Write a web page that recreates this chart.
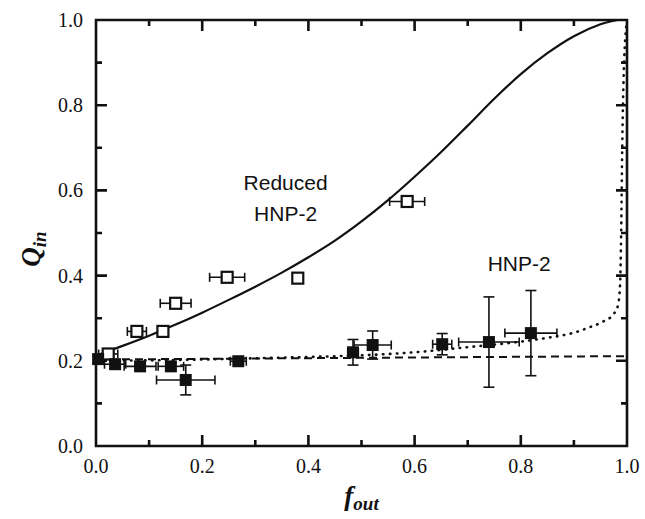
<!DOCTYPE html>
<html>
<head>
<meta charset="utf-8">
<script src="https://cdn.jsdelivr.net/npm/d3@7"></script>
<style>
	body { margin: 0; background: #fff; }
	svg { display: block; }
	.tick-label { font-family: 'Liberation Serif', 'Times New Roman', serif; font-size: 20px; fill: #111; }
	.note { font-family: 'Liberation Sans', Arial, sans-serif; font-size: 21px; fill: #111; }
	.title { font-family: 'Liberation Serif', 'Times New Roman', serif; font-weight: bold; font-style: italic; fill: #111; }
</style>
</head>
<body>
<div id="chart"></div>
<script>
// Reduced HNP-2 (open squares)
const openF = [0.023, 0.077, 0.126, 0.150, 0.247, 0.380, 0.586];
const openQ = [0.216, 0.269, 0.269, 0.335, 0.396, 0.394, 0.574];
const openFErr = [0.018, 0.018, 0.008, 0.029, 0.033, 0.005, 0.033];

// HNP-2 (filled squares)
const filledF = [0.004, 0.036, 0.083, 0.141, 0.169, 0.268, 0.484, 0.521, 0.652, 0.740, 0.819];
const filledQ = [0.204, 0.192, 0.187, 0.187, 0.155, 0.199, 0.220, 0.237, 0.239, 0.244, 0.265];
const filledFErr = [0.004, 0.02, 0.03, 0.024, 0.055, 0.015, 0.01, 0.035, 0.018, 0.057, 0.049];
const filledQErr = [0.01, 0.01, 0.008, 0.01, 0.035, 0.006, 0.03, 0.033, 0.025, 0.106, 0.1];

// fitted curves
const solidF = [0, 0.05, 0.1, 0.15, 0.2, 0.25, 0.3, 0.35, 0.4, 0.45, 0.5, 0.55, 0.6, 0.65, 0.7, 0.75, 0.8, 0.85, 0.9, 0.95, 1.0];
const solidQ = [0.212, 0.235, 0.259, 0.285, 0.313, 0.343, 0.374, 0.407, 0.443, 0.482, 0.527, 0.577, 0.632, 0.690, 0.752, 0.815, 0.873, 0.922, 0.962, 0.990, 1.005];

const dashF = [0, 1.0];
const dashQ = [0.203, 0.211];

const dotF = [0, 0.1, 0.2, 0.3, 0.4, 0.5, 0.6, 0.7, 0.8, 0.85, 0.9, 0.93, 0.955, 0.975, 0.983, 0.987, 0.989, 0.991, 0.994, 1.0];
const dotQ = [0.2, 0.201, 0.203, 0.206, 0.209, 0.213, 0.22, 0.232, 0.245, 0.254, 0.266, 0.279, 0.292, 0.31, 0.33, 0.38, 0.5, 0.7, 0.88, 1.0];

const majorTicks = [0.2, 0.4, 0.6, 0.8];
const minorTicks = [0.1, 0.3, 0.5, 0.7, 0.9];
const labelTicks = [0, 0.2, 0.4, 0.6, 0.8, 1.0];

const width = 645;
const height = 519;
const margin = {top: 20, right: 18, bottom: 73, left: 96};

const svg = d3
	.select('#chart')
	.append('svg')
	.attr('width', width)
	.attr('height', height);

const x = d3
	.scaleLinear()
	.domain([0, 1])
	.range([margin.left, width - margin.right]);

const y = d3
	.scaleLinear()
	.domain([0, 1])
	.range([height - margin.bottom, margin.top]);

svg.append('clipPath')
	.attr('id', 'plot-clip')
	.append('rect')
	.attr('x', x(0))
	.attr('y', y(1) - 1)
	.attr('width', x(1) - x(0))
	.attr('height', y(0) - y(1) + 1);

const plot = svg.append('g').attr('clip-path', 'url(#plot-clip)');

// Curves
const line = d3
	.line()
	.x(d => x(d[0]))
	.y(d => y(d[1]));

plot.append('path')
	.datum(d3.zip(solidF, solidQ))
	.attr('d', line.curve(d3.curveMonotoneX))
	.attr('fill', 'none')
	.attr('stroke', '#111')
	.attr('stroke-width', 2.2);

plot.append('path')
	.datum(d3.zip(dashF, dashQ))
	.attr('d', line.curve(d3.curveLinear))
	.attr('fill', 'none')
	.attr('stroke', '#111')
	.attr('stroke-width', 2)
	.attr('stroke-dasharray', '8,5');

plot.append('path')
	.datum(d3.zip(dotF, dotQ))
	.attr('d', line.curve(d3.curveMonotoneX))
	.attr('fill', 'none')
	.attr('stroke', '#111')
	.attr('stroke-width', 2.6)
	.attr('stroke-linecap', 'round')
	.attr('stroke-dasharray', '0.5,6.5');

// Error bars
const errLayer = svg.append('g').attr('stroke', '#111').attr('stroke-width', 1.6);
const cap = 4.5;

function drawErrors(f, q, fErr, qErr) {
	f.forEach((fv, i) => {
		const cx = x(fv);
		const cy = y(q[i]);
		const dx = fErr ? fErr[i] : 0;
		const dy = qErr ? qErr[i] : 0;
		if (dx > 0) {
			const x0 = x(Math.max(0, fv - dx));
			const x1 = x(fv + dx);
			errLayer.append('line').attr('x1', x0).attr('x2', x1).attr('y1', cy).attr('y2', cy);
			errLayer.append('line').attr('x1', x0).attr('x2', x0).attr('y1', cy - cap).attr('y2', cy + cap);
			errLayer.append('line').attr('x1', x1).attr('x2', x1).attr('y1', cy - cap).attr('y2', cy + cap);
		}
		if (dy > 0) {
			const y0 = y(q[i] - dy);
			const y1 = y(q[i] + dy);
			errLayer.append('line').attr('x1', cx).attr('x2', cx).attr('y1', y0).attr('y2', y1);
			errLayer.append('line').attr('x1', cx - cap - 1).attr('x2', cx + cap + 1).attr('y1', y0).attr('y2', y0);
			errLayer.append('line').attr('x1', cx - cap - 1).attr('x2', cx + cap + 1).attr('y1', y1).attr('y2', y1);
		}
	});
}

drawErrors(openF, openQ, openFErr, null);
drawErrors(filledF, filledQ, filledFErr, filledQErr);

// Markers
const sq = 11;

svg.append('g')
	.selectAll('rect')
	.data(d3.zip(openF, openQ))
	.enter()
	.append('rect')
	.attr('x', d => x(d[0]) - sq / 2)
	.attr('y', d => y(d[1]) - sq / 2)
	.attr('width', sq)
	.attr('height', sq)
	.attr('fill', '#fff')
	.attr('stroke', '#111')
	.attr('stroke-width', 2.2);

svg.append('g')
	.selectAll('rect')
	.data(d3.zip(filledF, filledQ))
	.enter()
	.append('rect')
	.attr('x', d => x(d[0]) - (sq + 1) / 2)
	.attr('y', d => y(d[1]) - (sq + 1) / 2)
	.attr('width', sq + 1)
	.attr('height', sq + 1)
	.attr('fill', '#111');

// Frame and inward ticks on all four sides, in one path
function framePath() {
	const p = d3.path();
	p.rect(x(0), y(1), x(1) - x(0), y(0) - y(1));
	const add = (v, len) => {
		p.moveTo(x(v), y(0));
		p.lineTo(x(v), y(0) - len);
		p.moveTo(x(v), y(1));
		p.lineTo(x(v), y(1) + len);
		p.moveTo(x(0), y(v));
		p.lineTo(x(0) + len, y(v));
		p.moveTo(x(1), y(v));
		p.lineTo(x(1) - len, y(v));
	};
	majorTicks.forEach(v => add(v, 11));
	minorTicks.forEach(v => add(v, 6));
	return p.toString();
}

svg.append('path')
	.attr('d', framePath())
	.attr('fill', 'none')
	.attr('stroke', '#111')
	.attr('stroke-width', 2.6);

// Tick labels
const fmt = d3.format('.1f');

svg.append('g')
	.selectAll('text')
	.data(labelTicks)
	.enter()
	.append('text')
	.attr('class', 'tick-label')
	.attr('text-anchor', 'middle')
	.attr('x', d => x(d))
	.attr('y', y(0) + 27)
	.text(fmt);

svg.append('g')
	.selectAll('text')
	.data(labelTicks)
	.enter()
	.append('text')
	.attr('class', 'tick-label')
	.attr('text-anchor', 'end')
	.attr('x', x(0) - 13)
	.attr('y', d => y(d) + 7)
	.text(fmt);

// Annotations
const noteReduced = svg.append('text')
	.attr('class', 'note')
	.attr('text-anchor', 'middle')
	.attr('x', x(0.357))
	.attr('y', y(0.6));
noteReduced.append('tspan').attr('x', x(0.357)).text('Reduced');
noteReduced.append('tspan').attr('x', x(0.357)).attr('dy', 31).text('HNP-2');

svg.append('text')
	.attr('class', 'note')
	.attr('text-anchor', 'middle')
	.attr('x', x(0.797))
	.attr('y', y(0.411))
	.text('HNP-2');

// Axis titles
const xTitle = svg.append('text')
	.attr('class', 'title')
	.attr('text-anchor', 'middle')
	.attr('x', (x(0) + x(1)) / 2)
	.attr('y', 505);
xTitle.append('tspan').attr('font-size', 27).text('f');
xTitle.append('tspan').attr('font-size', 19).attr('dy', 5).text('out');

const yTitle = svg.append('text')
	.attr('class', 'title')
	.attr('text-anchor', 'middle')
	.attr('transform', `translate(40,${(y(0) + y(1)) / 2 + 16}) rotate(-90)`);
yTitle.append('tspan').attr('font-size', 27).text('Q');
yTitle.append('tspan').attr('font-size', 19).attr('dy', 6).text('in');
</script>
</body>
</html>
